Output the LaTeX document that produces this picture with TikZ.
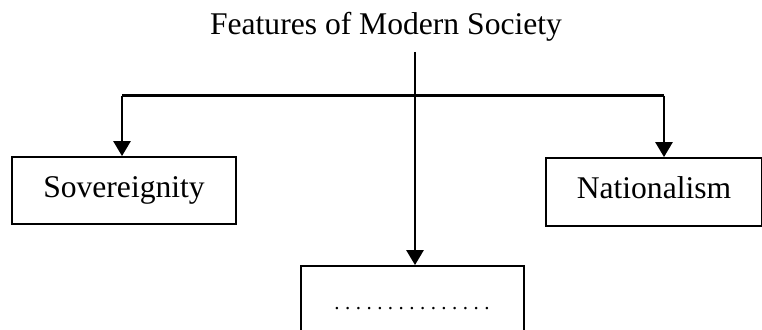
\documentclass[tikz,border=0pt]{standalone}
\usepackage{fontspec}
\setmainfont{Liberation Serif}
\usetikzlibrary{arrows.meta}
\newcommand{\dotrow}{\foreach \i in {1,...,15}{\makebox[10.7pt]{.}}}
\begin{document}
\begin{tikzpicture}[x=1pt,y=-1pt,
  box/.style={draw,line width=1.8pt,inner sep=0pt,text height=21pt,text depth=8pt,font=\fontsize{31.6}{36}\selectfont},
  conn/.style={line width=2.6pt},
  arr/.style={conn,-{Triangle[length=15pt,width=17pt]}}]
\useasboundingbox (0,0) rectangle (762,329);
\node[anchor=base,font=\fontsize{31.6}{36}\selectfont,inner sep=0pt] (title) at (386,35) {Features of Modern Society};
\node[box,minimum width=224pt,minimum height=67pt] (sov) at (124,190.5) {Sovereignity};
\node[box,minimum width=216pt,minimum height=68pt] (nat) at (654,192) {Nationalism};
\node[draw,line width=1.8pt,inner sep=0pt,minimum width=223pt,minimum height=72pt] (mid) at (412.5,302) {};
\node[inner sep=0pt,anchor=base,font=\fontsize{21}{24}\selectfont] (dots) at (412,309) {\dotrow};
\coordinate (top) at (415,52);
\coordinate (hl) at (122,95.5);
\coordinate (hr) at (664,95.5);
\draw[conn] (hl) -- (hr);
\draw[arr] (top) -- (top |- mid.north);
\draw[arr] (hl) -- (hl |- sov.north);
\draw[arr] (hr) -- (hr |- nat.north);
\end{tikzpicture}
\end{document}
